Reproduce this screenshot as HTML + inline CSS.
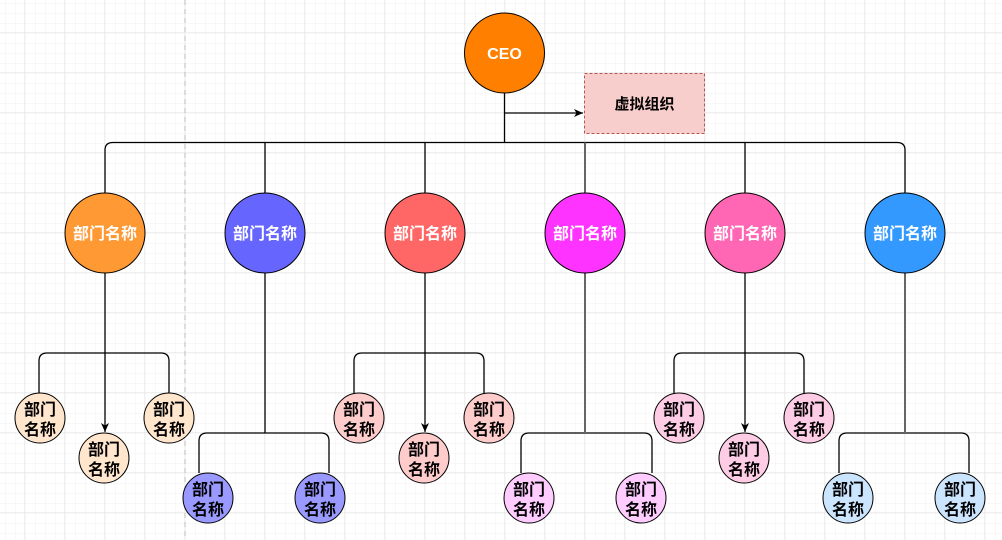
<!DOCTYPE html>
<html><head><meta charset="utf-8"><style>
html,body{margin:0;padding:0;background:#fff;}
svg{display:block;}
text{font-family:"Liberation Sans","Noto Sans CJK SC",sans-serif;font-weight:bold;}
</style></head><body>
<svg width="1002" height="540" viewBox="0 0 1002 540" xmlns="http://www.w3.org/2000/svg">
<defs>
<pattern id="minor" x="5" y="3" width="10" height="10" patternUnits="userSpaceOnUse">
<path d="M0 0H10M0 0V10" stroke="#f0f0f0" stroke-width="1" fill="none"/>
</pattern>
<pattern id="major" x="24.5" y="32.5" width="40" height="40" patternUnits="userSpaceOnUse">
<path d="M0 0H40M0 0V40" stroke="#e0e0e0" stroke-width="1" fill="none"/>
</pattern>
<marker id="ar" markerWidth="10" markerHeight="10" refX="9" refY="5" orient="auto" markerUnits="userSpaceOnUse">
<path d="M0 1L9 5L0 9L2.5 5Z" fill="#000"/>
</marker>
</defs>
<rect width="1002" height="540" fill="url(#minor)"/>
<rect width="1002" height="540" fill="url(#major)"/>
<line x1="185" y1="0" x2="185" y2="540" stroke="#bbb" stroke-dasharray="5 4"/>

<g fill="none" stroke="#000" stroke-width="1.3">
<!-- CEO trunk -->
<path d="M504.5 93V142.5"/>
<path d="M504.5 113H583" marker-end="url(#ar)"/>
<path d="M105 193V150Q105 142.5 113 142.5H897Q905 142.5 905 150V193"/>
<path d="M265 142.5V193M425 142.5V193M745 142.5V193"/>
</g>
<path d="M585 142.5V193" stroke="#666" stroke-width="2"/>

<rect x="584.5" y="73.5" width="120" height="60" fill="#F8CECC" stroke="#B85450" stroke-dasharray="3 2"/>
<text x="644.5" y="109" font-size="15" text-anchor="middle" fill="#000">虚拟组织</text>

<circle cx="504.5" cy="53" r="40" fill="#FF8000" stroke="#000" stroke-width="1"/>
<text x="504.5" y="59" font-size="16" text-anchor="middle" fill="#fff">CEO</text>

<!-- odd columns -->
<g fill="none" stroke="#000" stroke-width="1.3">
<path d="M105 273V432" marker-end="url(#ar)"/>
<path d="M425 273V432" marker-end="url(#ar)"/>
<path d="M745 273V432" marker-end="url(#ar)"/>
<path d="M39 393V361Q39 353 47 353H161Q169 353 169 361V393"/>
<path d="M354 393V361Q354 353 362 353H476Q484 353 484 361V393"/>
<path d="M674 393V361Q674 353 682 353H796Q804 353 804 361V393"/>
<path d="M265 273V433"/>
<path d="M199 473V441Q199 433 207 433H321Q329 433 329 441V473"/>
<path d="M521 473V441Q521 433 529 433H644Q652 433 652 441V473"/>
<path d="M839 473V441Q839 433 847 433H961Q969 433 969 441V473"/>
</g>
<path d="M585 273V433M905 273V433" stroke="#666" stroke-width="2"/>

<!-- dept circles -->
<g stroke="#000" stroke-width="1" font-size="16">
<circle cx="105" cy="233" r="40" fill="#FF9933"/>
<circle cx="265" cy="233" r="40" fill="#6666FF"/>
<circle cx="425" cy="233" r="40" fill="#FF6666"/>
<circle cx="585" cy="233" r="40" fill="#FF33FF"/>
<circle cx="745" cy="233" r="40" fill="#FF66B3"/>
<circle cx="905" cy="233" r="40" fill="#3399FF"/>
</g>
<g fill="#fff" font-size="16" text-anchor="middle">
<text x="105" y="239">部门名称</text>
<text x="265" y="239">部门名称</text>
<text x="425" y="239">部门名称</text>
<text x="585" y="239">部门名称</text>
<text x="745" y="239">部门名称</text>
<text x="905" y="239">部门名称</text>
</g>

<!-- children -->
<g stroke="#000" stroke-width="1">
<circle cx="40" cy="418" r="25" fill="#FFE6CC"/>
<circle cx="169" cy="418" r="25" fill="#FFE6CC"/>
<circle cx="104" cy="458" r="25" fill="#FFE6CC"/>
<circle cx="359" cy="418" r="25" fill="#FFCCCC"/>
<circle cx="489" cy="418" r="25" fill="#FFCCCC"/>
<circle cx="424" cy="458" r="25" fill="#FFCCCC"/>
<circle cx="679" cy="418" r="25" fill="#FFCCE6"/>
<circle cx="809" cy="418" r="25" fill="#FFCCE6"/>
<circle cx="744" cy="458" r="25" fill="#FFCCE6"/>
<circle cx="208" cy="498" r="25" fill="#9999FF"/>
<circle cx="320" cy="498" r="25" fill="#9999FF"/>
<circle cx="529" cy="498" r="25" fill="#FFCCFF"/>
<circle cx="641" cy="498" r="25" fill="#FFCCFF"/>
<circle cx="848" cy="498" r="25" fill="#CCE5FF"/>
<circle cx="960" cy="498" r="25" fill="#CCE5FF"/>
</g>
<g fill="#000" font-size="16" text-anchor="middle">
<text x="40" y="415">部门</text><text x="40" y="435">名称</text>
<text x="169" y="415">部门</text><text x="169" y="435">名称</text>
<text x="104" y="455">部门</text><text x="104" y="475">名称</text>
<text x="359" y="415">部门</text><text x="359" y="435">名称</text>
<text x="489" y="415">部门</text><text x="489" y="435">名称</text>
<text x="424" y="455">部门</text><text x="424" y="475">名称</text>
<text x="679" y="415">部门</text><text x="679" y="435">名称</text>
<text x="809" y="415">部门</text><text x="809" y="435">名称</text>
<text x="744" y="455">部门</text><text x="744" y="475">名称</text>
<text x="208" y="495">部门</text><text x="208" y="515">名称</text>
<text x="320" y="495">部门</text><text x="320" y="515">名称</text>
<text x="529" y="495">部门</text><text x="529" y="515">名称</text>
<text x="641" y="495">部门</text><text x="641" y="515">名称</text>
<text x="848" y="495">部门</text><text x="848" y="515">名称</text>
<text x="960" y="495">部门</text><text x="960" y="515">名称</text>
</g>
</svg>
</body></html>
